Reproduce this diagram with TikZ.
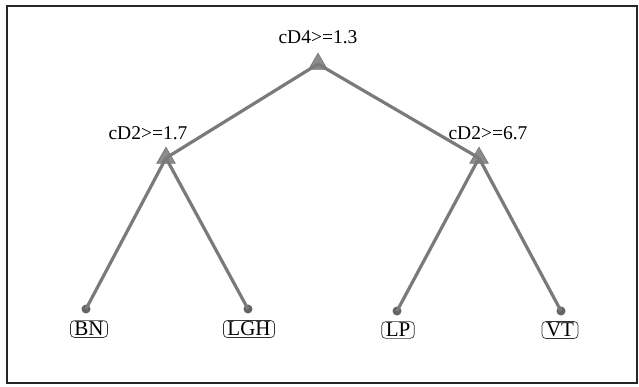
\documentclass[tikz,border=0pt]{standalone}
\usepackage{fontspec}
\setmainfont{Liberation Serif}
\usetikzlibrary{shapes.geometric}
\definecolor{edgegray}{RGB}{122,122,122}
\definecolor{trigray}{RGB}{140,140,140}
\definecolor{dotgray}{RGB}{100,100,100}
\tikzset{
  split/.style={isosceles triangle,isosceles triangle apex angle=60,shape border rotate=90,
    fill=trigray,draw=edgegray,line width=0.8pt,inner sep=0pt,minimum height=16pt},
  leaf/.style={circle,fill=dotgray,inner sep=0pt,minimum size=9pt},
  rule/.style={font=\fontsize{19.5}{22}\selectfont,inner sep=0pt},
  cls/.style={draw=black!80,rounded corners=4pt,line width=0.7pt,inner xsep=4pt,inner ysep=1.5pt,
    font=\fontsize{21}{22}\selectfont},
  branch/.style={edgegray,line width=3.2pt}
}
\begin{document}
\begin{tikzpicture}[x=1pt,y=-1pt]
\useasboundingbox (0,0) rectangle (639,386);
\draw[black!85,line width=1.2pt] (7,6) rectangle (637,383);

% split nodes
\node[split] (root) at (318,64) {};
\node[split] (left) at (166,158) {};
\node[split] (right) at (479,158) {};
\node[rule] (rootlab) at (318,37) {cD4>=1.3};
\node[rule] (leftlab) at (148,133) {cD2>=1.7};
\node[rule] (rightlab) at (488,133) {cD2>=6.7};

% leaves
\node[leaf] (bn) at (86,309) {};
\node[leaf] (lgh) at (248,309) {};
\node[leaf] (lp) at (397,311) {};
\node[leaf] (vt) at (561,311) {};
\node[cls] (bnlab) at (89,329) {BN};
\node[cls] (lghlab) at (249,329) {LGH};
\node[cls] (lplab) at (398,330) {LP};
\node[cls] (vtlab) at (560,330) {VT};

\draw[branch] (root.center) -- (left.center);
\draw[branch] (root.center) -- (right.center);
\draw[branch] (left.center) -- (bn.center);
\draw[branch] (left.center) -- (lgh.center);
\draw[branch] (right.center) -- (lp.center);
\draw[branch] (right.center) -- (vt.center);
\end{tikzpicture}
\end{document}
